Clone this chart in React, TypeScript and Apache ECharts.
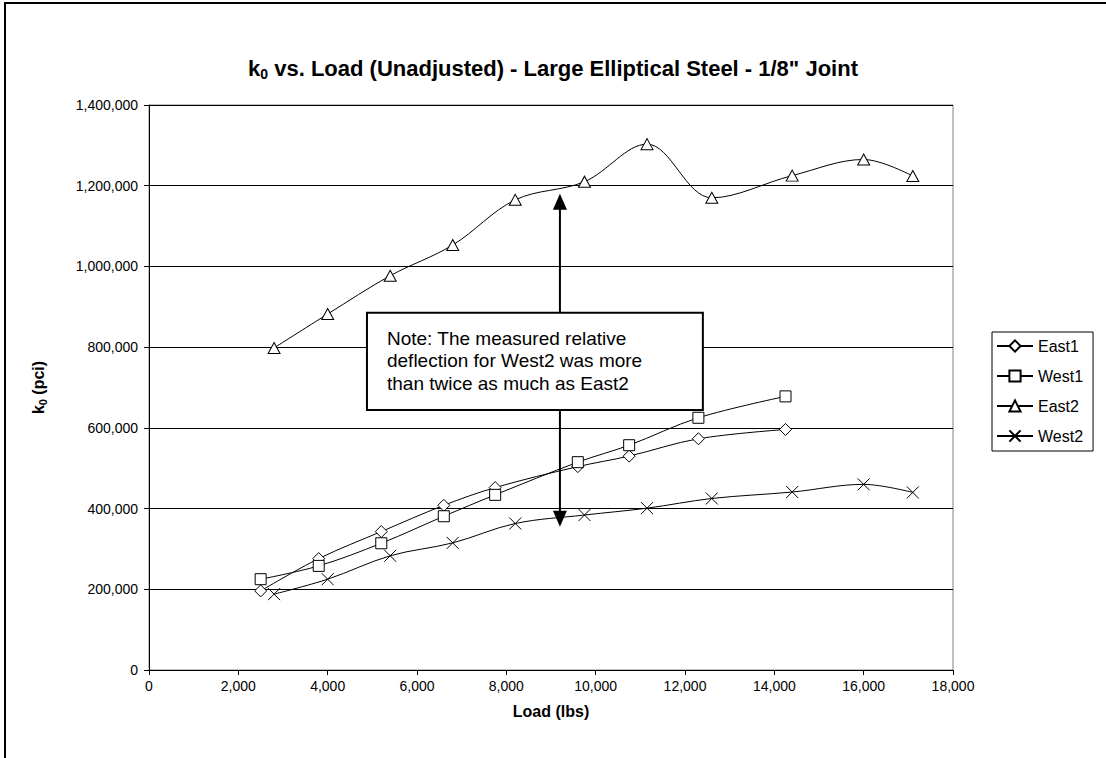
import React, { useEffect, useRef } from "react";
import * as echarts from "echarts";

// Load (lbs) readings for the East1 / West1 runs
const loadRun1 = [2500, 3800, 5200, 6600, 7750, 9600, 10750, 12300, 14250];
const east1K0 = [196000, 276000, 343000, 408000, 452000, 504000, 530000, 573000, 596000];
const west1K0 = [225000, 258000, 314000, 381000, 434000, 515000, 557000, 625000, 678000];

// Load (lbs) readings for the East2 / West2 runs
const loadRun2 = [2800, 4000, 5400, 6800, 8200, 9750, 11150, 12600, 14400, 16000, 17100];
const east2K0 = [798000, 882000, 977000, 1053000, 1165000, 1210000, 1303000, 1170000, 1225000, 1265000, 1224000];
const west2K0 = [188000, 225000, 283000, 315000, 363000, 384000, 401000, 425000, 441000, 460000, 440000];

const seriesNames = ["East1", "West1", "East2", "West2"];

// Axis ranges
const xMax = 18000;
const xStep = 2000;
const yMax = 1400000;
const yStep = 200000;

// Callout anchor points in data units
const noteArrowLoad = 9200;
const noteUpTipK0 = 1180000;
const noteDownTipK0 = 355000;
const noteBoxLoad = [4880, 12400];
const noteBoxK0 = [644000, 885000];
const noteLines = [
  "Note: The measured relative",
  "deflection for West2 was more",
  "than twice as much as East2",
];

const FONT = '"Liberation Sans", Arial, Helvetica, sans-serif';

const pairs = (xs: number[], ys: number[]) => xs.map((x, i) => [x, ys[i]]);
const fmt = (v: number) => v.toLocaleString("en-US");

const crossPath = "path://M0,0L10,10M10,0L0,10";

function lineSeries(name: string, data: number[][], symbol: string, size: number | number[]) {
  return {
    name,
    type: "line",
    data,
    smooth: 0.35,
    symbol,
    symbolSize: size,
    showAllSymbol: true,
    lineStyle: { color: "#000", width: 1 },
    itemStyle: { color: "#fff", borderColor: "#000", borderWidth: 1 },
    emphasis: { disabled: true },
  };
}

export default function App() {
  const ref = useRef<HTMLDivElement>(null);

  useEffect(() => {
    if (!ref.current) return;
    const chart = echarts.init(ref.current, undefined, { renderer: "svg" });

    const titleRich = {
      b: { fontFamily: FONT, fontWeight: "bold", fontSize: 22, color: "#000", lineHeight: 26 },
      s: { fontFamily: FONT, fontWeight: "bold", fontSize: 14, color: "#000", lineHeight: 15, verticalAlign: "bottom" },
    };
    const axisRich = {
      b: { fontFamily: FONT, fontWeight: "bold", fontSize: 16, color: "#000", lineHeight: 20 },
      s: { fontFamily: FONT, fontWeight: "bold", fontSize: 11, color: "#000", lineHeight: 12, verticalAlign: "bottom" },
    };

    chart.setOption({
      animation: false,
      backgroundColor: "#fff",
      title: {
        text: '{b|k}{s|0}{b| vs. Load (Unadjusted) - Large Elliptical Steel - 1/8" Joint}',
        left: "center",
        top: 50,
        textStyle: { rich: titleRich },
      },
      grid: {
        left: 149,
        right: 153,
        top: 105,
        bottom: 88,
        show: true,
        borderColor: "#808080",
        borderWidth: 1,
        backgroundColor: "transparent",
      },
      legend: {
        orient: "vertical",
        left: 992,
        top: 332,
        data: seriesNames,
        itemWidth: 36,
        itemHeight: 14,
        itemGap: 14,
        padding: [6, 10, 7, 4],
        borderColor: "#000",
        borderWidth: 1,
        backgroundColor: "#fff",
        textStyle: { fontFamily: FONT, fontSize: 16, color: "#000" },
        selectedMode: false,
      },
      xAxis: {
        type: "value",
        min: 0,
        max: xMax,
        interval: xStep,
        name: "Load (lbs)",
        nameLocation: "middle",
        nameGap: 33,
        nameTextStyle: { fontFamily: FONT, fontWeight: "bold", fontSize: 16, color: "#000" },
        axisLine: { show: true, onZero: false, lineStyle: { color: "#000", width: 1 } },
        axisTick: { show: true, inside: false, length: 5, lineStyle: { color: "#000" } },
        axisLabel: { color: "#000", fontFamily: FONT, fontSize: 14, margin: 9, formatter: fmt },
        splitLine: { show: false },
      },
      yAxis: {
        type: "value",
        min: 0,
        max: yMax,
        interval: yStep,
        name: "{b|k}{s|0}{b| (pci)}",
        nameLocation: "middle",
        nameGap: 101,
        nameTextStyle: { rich: axisRich },
        axisLine: { show: true, onZero: false, lineStyle: { color: "#000", width: 1 } },
        axisTick: { show: true, inside: false, length: 5, lineStyle: { color: "#000" } },
        axisLabel: { color: "#000", fontFamily: FONT, fontSize: 14, margin: 11, formatter: fmt },
        splitLine: { show: true, lineStyle: { color: "#000", width: 1 } },
      },
      series: [
        lineSeries(seriesNames[0], pairs(loadRun1, east1K0), "diamond", 12),
        lineSeries(seriesNames[1], pairs(loadRun1, west1K0), "rect", 11),
        lineSeries(seriesNames[2], pairs(loadRun2, east2K0), "triangle", [12, 11]),
        lineSeries(seriesNames[3], pairs(loadRun2, west2K0), crossPath, 12),
      ],
    });

    // Callout box with arrows, placed from data coordinates
    const px = (x: number, y: number) => chart.convertToPixel({ gridIndex: 0 }, [x, y]) as number[];
    const [bx0, by0] = px(noteBoxLoad[0], noteBoxK0[1]);
    const [bx1, by1] = px(noteBoxLoad[1], noteBoxK0[0]);
    const [ax, upTip] = px(noteArrowLoad, noteUpTipK0);
    const [, downTip] = px(noteArrowLoad, noteDownTipK0);
    const headLen = 16;
    const headHalf = 7;

    chart.setOption({
      graphic: [
        {
          type: "rect",
          silent: true,
          shape: { x: 5, y: 3, width: 1300, height: 1000 },
          style: { fill: "none", stroke: "#000", lineWidth: 2 },
          z: 100,
        },
        {
          type: "line",
          silent: true,
          shape: { x1: ax, y1: by0, x2: ax, y2: upTip + headLen - 1 },
          style: { stroke: "#000", lineWidth: 2 },
          z: 100,
        },
        {
          type: "polygon",
          silent: true,
          shape: { points: [[ax, upTip], [ax - headHalf, upTip + headLen], [ax + headHalf, upTip + headLen]] },
          style: { fill: "#000" },
          z: 100,
        },
        {
          type: "line",
          silent: true,
          shape: { x1: ax, y1: by1, x2: ax, y2: downTip - headLen + 1 },
          style: { stroke: "#000", lineWidth: 2 },
          z: 100,
        },
        {
          type: "polygon",
          silent: true,
          shape: { points: [[ax, downTip], [ax - headHalf, downTip - headLen], [ax + headHalf, downTip - headLen]] },
          style: { fill: "#000" },
          z: 100,
        },
        {
          type: "rect",
          silent: true,
          shape: { x: bx0, y: by0, width: bx1 - bx0, height: by1 - by0 },
          style: { fill: "#fff", stroke: "#000", lineWidth: 2 },
          z: 101,
        },
        {
          type: "text",
          silent: true,
          x: bx0 + 20,
          y: by0 + 14,
          style: {
            text: noteLines.join("\n"),
            fontFamily: FONT,
            fontSize: 19,
            lineHeight: 22.5,
            fill: "#000",
            align: "left",
            verticalAlign: "top",
          },
          z: 102,
        },
      ],
    });

    return () => chart.dispose();
  }, []);

  return (
    <div
      ref={ref}
      style={{ position: "fixed", left: 0, top: 0, width: 1106, height: 758, background: "#fff" }}
    />
  );
}
